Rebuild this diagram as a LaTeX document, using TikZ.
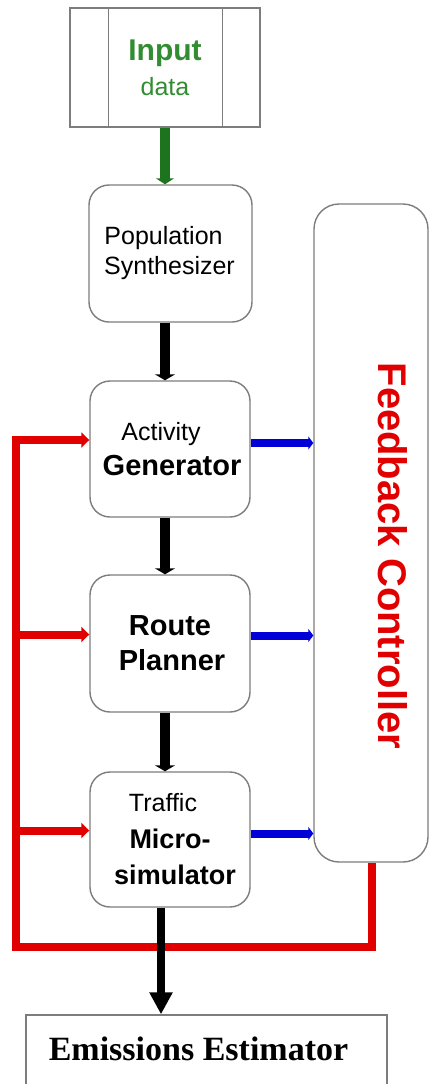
\documentclass[tikz,border=0pt]{standalone}
\usepackage{fontspec}
\setmainfont{Liberation Sans}
\newfontfamily\emserif{Liberation Serif}
\usetikzlibrary{arrows.meta}
\definecolor{boxgray}{RGB}{125,125,125}
\definecolor{fbred}{RGB}{225,0,0}
\definecolor{arrowgreen}{RGB}{30,115,30}
\definecolor{textgreen}{RGB}{50,140,50}
\definecolor{fbblue}{RGB}{0,0,215}
\newcommand{\fs}[2]{\fontsize{#1}{#2}\selectfont}
\begin{document}
\begin{tikzpicture}[x=1pt,y=-1pt,
  procbox/.style={draw=boxgray, line width=1.4pt, rounded corners=20pt, fill=white,
    minimum width=160pt, inner sep=0pt, align=center},
  plainbox/.style={draw=boxgray, line width=1.4pt, fill=white, inner sep=0pt},
  greenarrow/.style={draw=arrowgreen, line width=10pt, -{Triangle[width=18pt,length=6pt]}},
  blackarrow/.style={draw=black, line width=10pt, -{Triangle[width=20pt,length=6pt]}},
  bigarrow/.style={draw=black, line width=8pt, -{Triangle[width=22pt,length=22pt]}},
  bluearrow/.style={draw=fbblue, line width=8pt, -{Triangle[width=13pt,length=5pt]}},
  redline/.style={draw=fbred, line width=8pt, line join=miter},
  redarrow/.style={redline, -{Triangle[width=15pt,length=8pt]}}
]
\useasboundingbox (0,0) rectangle (429,1084);

% input data store
\node[plainbox, minimum width=190pt, minimum height=119pt, align=center,
  text=textgreen, font=\fs{30}{35}\bfseries] (inp) at (165,67.5)
  {Input\\{\fs{25}{35}\mdseries data}};
\draw[boxgray, line width=1.4pt] ([xshift=39pt]inp.north west) -- ([xshift=39pt]inp.south west);
\draw[boxgray, line width=1.4pt] ([xshift=-38pt]inp.north east) -- ([xshift=-38pt]inp.south east);

% process boxes
\node[procbox, minimum width=163pt, minimum height=137pt, font=\fs{25}{30}] (pop) at (170.5,253.5)
  {Population\hspace*{14pt}\\Synthesizer\hspace*{2pt}};
\node[procbox, minimum height=136pt, font=\fs{29}{35}\bfseries] (act) at (170,449)
  {{\fs{25}{35}\mdseries Activity}\hspace*{18pt}\\Generator\hspace*{-4pt}};
\node[procbox, minimum height=137pt, font=\fs{29}{35}\bfseries] (rp) at (170,643.5)
  {Route\\Planner\hspace*{-4pt}};
\node[procbox, minimum height=135pt, font=\fs{27}{36.5}\bfseries] (ms) at (170,839.5)
  {{\fs{25}{36.5}\mdseries Traffic}\hspace*{14pt}\\Micro-\hspace*{-4pt}\\simulator\hspace*{-10pt}};

% feedback controller
\node[procbox, rounded corners=25pt, minimum width=114pt, minimum height=658pt] (fb) at (371,533) {};
\node[text=fbred, font=\fs{40}{44}\bfseries, rotate=-90, inner sep=0pt] (fbtext) at (393,556)
  {Feedback Controller};

% emissions estimator
\node[plainbox, minimum width=361pt, minimum height=80pt] (em) at (206.5,1055) {};
\node[font=\emserif\fs{34}{38}\bfseries, inner sep=0pt] (emtext) at (198.5,1049)
  {Emissions Estimator};

% column coordinates
\coordinate (ax) at (165,0);
\coordinate (ex) at (161,0);
\coordinate (fbx) at (372,0);
\coordinate (rb) at (16,947);
\coordinate (actin) at ([yshift=9pt]act.west);
\coordinate (rpin) at ([yshift=9pt]rp.west);
\coordinate (msin) at ([yshift=9pt]ms.west);

% main flow
\draw[greenarrow] (inp.south -| ax) -- (pop.north -| ax);
\draw[blackarrow] (pop.south -| ax) -- (act.north -| ax);
\draw[blackarrow] (act.south -| ax) -- (rp.north -| ax);
\draw[blackarrow] (rp.south -| ax) -- (ms.north -| ax);

% outputs to feedback controller
\draw[bluearrow] ([yshift=6pt]act.east) -- ([yshift=6pt]act.east -| fb.west);
\draw[bluearrow] ([yshift=8pt]rp.east) -- ([yshift=8pt]rp.east -| fb.west);
\draw[bluearrow] ([yshift=6pt]ms.east) -- ([yshift=6pt]ms.east -| fb.west);

% feedback loop
\draw[redarrow] (fb.south -| fbx) -- (fbx |- rb) -- (rb) -- (rb |- actin) -- (actin);
\draw[redarrow] (rpin -| rb) -- (rpin);
\draw[redarrow] (msin -| rb) -- (msin);

% to emissions estimator
\draw[bigarrow] (ms.south -| ex) -- (em.north -| ex);
\end{tikzpicture}
\end{document}
